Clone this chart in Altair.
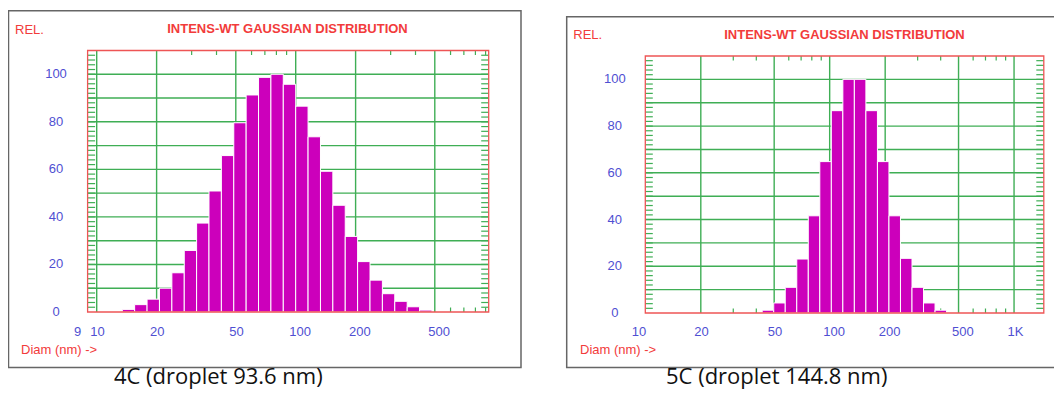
import altair as alt
import pandas as pd

# ---------------- data ----------------
# Panel 4C: bin edges (nm) and relative intensity per bin
l_edges = [13.45, 15.51, 17.91, 20.67, 23.86, 27.54, 31.77, 36.67, 42.32, 48.84,
           56.36, 65.05, 75.07, 86.63, 100.0, 115.4, 133.2, 153.7, 177.4, 204.7,
           236.3, 272.7, 314.7, 363.3, 419.3, 483.9]
l_values = [1.1, 3.1, 5.4, 10.0, 16.5, 25.9, 37.4, 50.9, 65.8, 79.6, 91.3, 98.7,
            100.0, 95.8, 86.6, 73.7, 59.2, 44.9, 31.8, 21.2, 13.4, 7.7, 4.5, 2.2, 0.8]
l_xdomain = [9, 933]
l_xgrid = [10, 20, 50, 100, 200, 500]
l_xminor = [30, 40, 60, 70, 80, 90, 300, 400, 600, 700, 800, 900]
l_edge_tick = [9]
l_edge_label = ["9"]
l_tick_vals = [10, 20, 50, 100, 200, 500]
l_tick_labels = ["10", "20", "50", "100", "200", "500"]
l_caption = "4C (droplet 93.6 nm)"

# Panel 5C
r_edges = [43.05, 49.72, 57.41, 66.30, 76.56, 88.41, 102.1, 117.9, 136.1, 157.2,
           181.6, 209.7, 242.1, 279.6, 322.9, 372.9, 430.5]
r_values = [1.2, 4.3, 11.0, 23.1, 41.6, 64.8, 86.6, 100.0, 100.0, 86.6, 64.8,
            41.6, 23.4, 11.0, 4.3, 1.2]
r_xdomain = [10, 1450]
r_xgrid = [20, 50, 100, 200, 500, 1000]
r_xminor = [30, 40, 60, 70, 80, 90, 300, 400, 600, 700, 800, 900]
r_edge_tick = [10]
r_edge_label = ["10"]
r_tick_vals = [20, 50, 100, 200, 500, 1000]
r_tick_labels = ["20", "50", "100", "200", "500", "1K"]
r_caption = "5C (droplet 144.8 nm)"

# shared y axis
y_domain = [0, 110]
y_grid = [10, 20, 30, 40, 50, 60, 70, 80, 90, 100]
y_minor = list(range(2, 110, 2))
y_label_vals = [0, 20, 40, 60, 80, 100]
y_label_text = ["0", "20", "40", "60", "80", "100"]

title_text = "INTENS-WT GAUSSIAN DISTRIBUTION"
rel_text = "REL."
diam_text = "Diam (nm) ->"

# ---------------- styles ----------------
MAG = "#cc00bb"
GREEN = "#3fae55"
RED = "#ee5555"
TXTRED = "#f23b3b"
BLUE = "#4f4fd2"
FRAME = "#666666"
FONT = "Liberation Sans, Arial, sans-serif"


def panel(edges, values, xdomain, xgrid, xminor, edge_tick, edge_label,
          tick_vals, tick_labels, caption, g):
    xs = alt.Scale(type="log", domain=xdomain, range=g["xr"], nice=False)
    ys = alt.Scale(type="linear", domain=y_domain, range=g["yr"], nice=False, zero=False)

    def X(f):
        return alt.X(f, type="quantitative", scale=xs, axis=None)

    def Y(f):
        return alt.Y(f, type="quantitative", scale=ys, axis=None)

    x0, x1 = g["xr"]
    yb, yt = g["yr"]

    frame = alt.Chart(pd.DataFrame({"a": [0]})).mark_rect(
        fill="white", stroke=FRAME, strokeWidth=1.5
    ).encode(x=alt.value(g["frame"][0]), x2=alt.value(g["frame"][1]),
             y=alt.value(g["frame"][2]), y2=alt.value(g["frame"][3]))

    gridh = alt.Chart(pd.DataFrame({"v": y_grid})).mark_rule(
        color=GREEN, strokeWidth=1.4
    ).encode(y=Y("v"), x=alt.value(x0), x2=alt.value(x1))

    gridv = alt.Chart(pd.DataFrame({"v": xgrid})).mark_rule(
        color=GREEN, strokeWidth=1.4
    ).encode(x=X("v"), y=alt.value(yt), y2=alt.value(yb))

    minor_df = pd.DataFrame({"v": xminor})
    top_ticks = alt.Chart(minor_df).mark_rule(color=GREEN, strokeWidth=1.2).encode(
        x=X("v"), y=alt.value(yt), y2=alt.value(yt + 4.5))
    bot_ticks = alt.Chart(minor_df).mark_rule(color=GREEN, strokeWidth=1.2).encode(
        x=X("v"), y=alt.value(yb), y2=alt.value(yb - 4.5))

    ymin_df = pd.DataFrame({"v": y_minor})
    left_ticks = alt.Chart(ymin_df).mark_rule(color=GREEN, strokeWidth=1.2).encode(
        y=Y("v"), x=alt.value(x0), x2=alt.value(x0 + 7.5))
    right_ticks = alt.Chart(ymin_df).mark_rule(color=GREEN, strokeWidth=1.2).encode(
        y=Y("v"), x=alt.value(x1 - 7.5), x2=alt.value(x1))

    bars_df = pd.DataFrame({"lo": edges[:-1], "hi": edges[1:], "val": values,
                            "base": [0] * len(values)})
    bars = alt.Chart(bars_df).mark_rect(fill=MAG, stroke="white", strokeWidth=1).encode(
        x=X("lo"), x2="hi:Q", y=Y("val"), y2="base:Q")

    box = alt.Chart(pd.DataFrame({"a": [xdomain[0]], "b": [xdomain[1]],
                                  "c": [y_domain[0]], "d": [y_domain[1]]})).mark_rect(
        fill="transparent", stroke=RED, strokeWidth=1.3
    ).encode(x=X("a"), x2="b:Q", y=Y("c"), y2="d:Q")

    ylab = alt.Chart(pd.DataFrame({"v": y_label_vals, "t": y_label_text})).mark_text(
        align="center", baseline="middle", font=FONT, fontSize=13, color=BLUE
    ).encode(y=Y("v"), x=alt.value(g["ylab_x"]), text="t:N")

    xlab_edge = alt.Chart(pd.DataFrame({"v": edge_tick, "t": edge_label})).mark_text(
        align="left", baseline="alphabetic", dx=-13.5, font=FONT, fontSize=13, color=BLUE
    ).encode(x=X("v"), y=alt.value(g["xlab_y"]), text="t:N")

    xlab = alt.Chart(pd.DataFrame({"v": tick_vals, "t": tick_labels})).mark_text(
        align="left", baseline="alphabetic", dx=-6.5, font=FONT, fontSize=13, color=BLUE
    ).encode(x=X("v"), y=alt.value(g["xlab_y"]), text="t:N")

    def label(txt, x, y, align="left", **kw):
        return alt.Chart(pd.DataFrame({"t": [txt]})).mark_text(
            align=align, baseline="alphabetic", **kw
        ).encode(x=alt.value(x), y=alt.value(y), text="t:N")

    rel = label(rel_text, g["rel"][0], g["rel"][1], font=FONT, fontSize=13, color=TXTRED)
    ttl = label(title_text, g["title"][0], g["title"][1], align="center", font=FONT,
                fontSize=13, fontWeight="bold", color=TXTRED)
    diam = label(diam_text, g["diam"][0], g["diam"][1], font=FONT, fontSize=13, color=TXTRED)
    cap = label(caption, g["cap"][0], g["cap"][1], align="center", font="Open Sans",
                fontSize=22, color="#111111")

    return alt.layer(frame, gridh, gridv, bot_ticks, bars, left_ticks, right_ticks,
                     top_ticks, box, ylab, xlab_edge, xlab, rel, ttl, diam, cap)


left_geo = dict(xr=[79.6, 480.7], yr=[304, 42.5], frame=[0.5, 513, 2.7, 359.5],
                ylab_x=48, xlab_y=327.5, rel=[7, 26], title=[279.5, 25],
                diam=[13, 346], cap=[210.3, 376])
right_geo = dict(xr=[637.3, 1035.8], yr=[305, 48], frame=[558.7, 1052, 8.7, 359.5],
                 ylab_x=606.8, xlab_y=327.5, rel=[565.3, 31], title=[836.5, 30.5],
                 diam=[572, 346], cap=[768.7, 376])

left = panel(l_edges, l_values, l_xdomain, l_xgrid, l_xminor, l_edge_tick, l_edge_label,
             l_tick_vals, l_tick_labels, l_caption, left_geo)
right = panel(r_edges, r_values, r_xdomain, r_xgrid, r_xminor, r_edge_tick, r_edge_label,
              r_tick_vals, r_tick_labels, r_caption, right_geo)

chart = alt.layer(left, right).resolve_scale(
    x="independent", y="independent"
).properties(
    width=1046, height=382, padding=0,
    autosize=alt.AutoSizeParams(type="none"),
    background="white",
).configure_view(strokeWidth=0)

chart.save("out.html", embed_options={"renderer": "svg", "actions": False})
